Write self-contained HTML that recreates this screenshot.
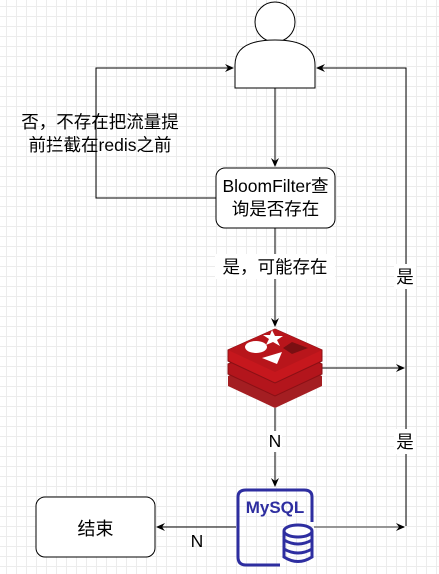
<!DOCTYPE html>
<html><head><meta charset="utf-8"><style>
body{margin:0;width:439px;height:574px;overflow:hidden;background:#fff;
background-image:linear-gradient(#ececec 1px,transparent 1px),linear-gradient(90deg,#ececec 1px,transparent 1px);background-size:10px 10px;background-position:-4px -4px;}
.t{position:absolute;font-family:"Liberation Sans","Noto Sans CJK SC",sans-serif;font-size:17.5px;color:#000;text-align:center;white-space:nowrap}
</style></head><body>
<svg width="439" height="574" style="position:absolute;left:0;top:0">
<defs><marker id="a" markerWidth="10" markerHeight="10" refX="8" refY="5" orient="auto" markerUnits="userSpaceOnUse"><path d="M0,1 L9,5 L0,9 L3,5z" fill="#000"/></marker></defs>
<g stroke="#000" stroke-width="1" fill="none">
<circle cx="275" cy="22" r="20" fill="#fff"/>
<path d="M235,88 L235,65 Q235,40 275,40 Q315,40 315,65 L315,88 Z" fill="#fff"/>
<line x1="275" y1="88" x2="275" y2="166" marker-end="url(#a)"/>
<rect x="216" y="168" width="119" height="60" rx="9" fill="#fff"/>
<polyline points="216,198 96,198 96,68 233,68" marker-end="url(#a)"/>
<line x1="275" y1="228" x2="275" y2="326" marker-end="url(#a)"/>
<polyline points="406,526 406,68 317,68" marker-end="url(#a)"/>
<line x1="322" y1="368" x2="404" y2="368" marker-end="url(#a)"/>
<line x1="275" y1="408" x2="275" y2="486" marker-end="url(#a)"/>
<line x1="314" y1="527" x2="404" y2="527" stroke="#777" stroke-width="1.5" marker-end="url(#a)"/>
<line x1="236" y1="527" x2="157" y2="527" marker-end="url(#a)"/>
<rect x="36" y="497" width="119" height="60" rx="9" fill="#fff"/>
</g>
<g>
<path d="M228,376 L275,355 L322,376 L322,386 L275,408 L228,386Z" fill="#a41e22"/>
<path d="M228,364 L275,343 L322,364 L322,374 L275,396 L228,374Z" fill="#b3151c" stroke="#8a1015" stroke-width="1"/>
<path d="M228,350 L275,329 L322,350 L322,361 L275,383 L228,361Z" fill="#c6171d" stroke="#8a1015" stroke-width="1"/>
<path d="M228,350 L275,329 L322,350 L275,372Z" fill="#b8151b"/>
<ellipse cx="256" cy="347" rx="11" ry="6" fill="#fff"/>
<polygon points="272,330 275,336 283,336 277,340 280,346 273,342 266,345 269,339 263,335 270,335" fill="#fff"/>
<polygon points="292,342 308,348 292,354 283,348" fill="#7a0f12"/>
<polygon points="262,358 282,352 277,364" fill="#fff"/>
</g>
<g stroke="#2e2ea0" stroke-width="3" fill="none">
<path d="M280,565 L246,565 Q238,565 238,557 L238,497 Q238,490 246,490 L304,490 Q312,490 312,497 L312,522"/>
<ellipse cx="298" cy="531" rx="14" ry="6" fill="#fff"/>
<path d="M284,531 L284,557 Q298,566 312,557 L312,531"/>
<path d="M284,540 Q298,548 312,540 M284,549 Q298,557 312,549"/>
</g>
<text x="275" y="513" font-family="Liberation Sans,sans-serif" font-weight="bold" font-size="17" fill="#2e2ea0" text-anchor="middle">MySQL</text>
</svg>
<div class="t" style="left:210px;top:175px;width:131px;line-height:23px">BloomFilter查<br>询是否存在</div>
<div class="t" style="left:5px;top:111px;width:190px;line-height:23px;background:transparent">否，不存在把流量提<br>前拦截在redis之前</div>
<div class="t" style="left:215px;top:254px;width:120px;background:#fff">是，可能存在</div>
<div class="t" style="left:394px;top:264px;width:22px;background:#fff">是</div>
<div class="t" style="left:394px;top:429px;width:22px;background:#fff">是</div>
<div class="t" style="left:268px;top:431px;width:14px;background:#fff">N</div>
<div class="t" style="left:190px;top:531px;width:14px">N</div>
<div class="t" style="left:36px;top:515px;width:119px;font-size:18px">结束</div>
</body></html>
